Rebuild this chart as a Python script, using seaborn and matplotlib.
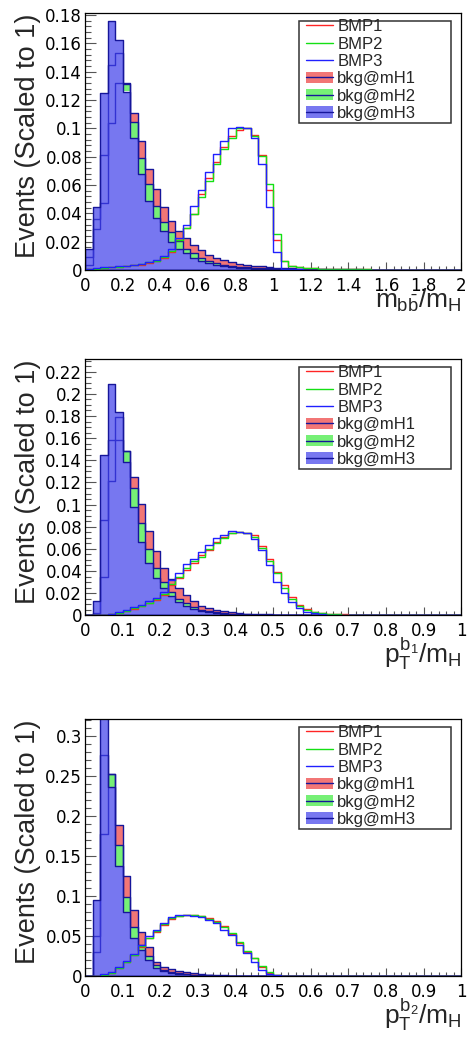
import numpy as np
import pandas as pd
import matplotlib
matplotlib.use("Agg")
import matplotlib.pyplot as plt
import seaborn as sns
from matplotlib.patches import Patch, Rectangle
from matplotlib.lines import Line2D
from matplotlib.ticker import MultipleLocator, FuncFormatter

# ---------------------------------------------------------------- data
# binning: 50 bins over the x range of each panel
mbb_range = (0.0, 2.0)
pt_range = (0.0, 1.0)
n_bins = 50

# ---- panel 1 : m_bb / m_H
mbb_bkg_mH1 = [0.0035, 0.029, 0.047, 0.1035, 0.132, 0.132, 0.111, 0.0913, 0.0715, 0.0569,
               0.0447, 0.0348, 0.0278, 0.0224, 0.0176, 0.0141, 0.0106, 0.0087, 0.0071, 0.0054,
               0.0045, 0.0037, 0.0030, 0.0025, 0.0021, 0.0017, 0.0014, 0.0012, 0.0010, 0.0009,
               0.0008, 0.0007, 0.0006, 0.0005, 0.0005, 0.0004, 0.0004, 0.0003, 0.0003, 0.0003,
               0.0002, 0.0002, 0.0002, 0.0002, 0.0001, 0.0001, 0.0001, 0.0001, 0.0001, 0.0001]
mbb_bkg_mH2 = [0.009, 0.036, 0.081, 0.1445, 0.153, 0.131, 0.1047, 0.0793, 0.0605, 0.0454,
               0.0339, 0.0266, 0.0205, 0.0150, 0.0118, 0.0087, 0.0066, 0.0047, 0.0035, 0.0028,
               0.0023, 0.0019, 0.0016, 0.0013, 0.0011, 0.0009, 0.0008, 0.0007, 0.0006, 0.0005,
               0.0004, 0.0004, 0.0003, 0.0003, 0.0002, 0.0002, 0.0002, 0.0001, 0.0001, 0.0001,
               0.0001, 0.0001, 0.0001, 0.0, 0.0, 0.0, 0.0, 0.0, 0.0, 0.0]
mbb_bkg_mH3 = [0.0146, 0.0447, 0.125, 0.1758, 0.1624, 0.126, 0.0934, 0.0678, 0.049, 0.0365,
               0.0273, 0.0200, 0.0148, 0.0118, 0.0082, 0.0066, 0.0047, 0.0035, 0.0028, 0.0019,
               0.0015, 0.0012, 0.0010, 0.0008, 0.0006, 0.0005, 0.0004, 0.0003, 0.0003, 0.0002,
               0.0002, 0.0001, 0.0001, 0.0001, 0.0001, 0.0, 0.0, 0.0, 0.0, 0.0,
               0.0, 0.0, 0.0, 0.0, 0.0, 0.0, 0.0, 0.0, 0.0, 0.0]
mbb_BMP1 = [0.0004, 0.0010, 0.0016, 0.0020, 0.0023, 0.0027, 0.0032, 0.0038, 0.0052, 0.0064,
            0.0088, 0.0130, 0.0210, 0.0294, 0.0395, 0.0536, 0.0647, 0.0760, 0.0870, 0.0946,
            0.0988, 0.1005, 0.0953, 0.0810, 0.0565, 0.0212, 0.0060, 0.0030, 0.0020, 0.0015,
            0.0012, 0.0010, 0.0008, 0.0007, 0.0006, 0.0005, 0.0004, 0.0004, 0.0003, 0.0003,
            0.0002, 0.0002, 0.0002, 0.0002, 0.0001, 0.0001, 0.0001, 0.0001, 0.0001, 0.0001]
mbb_BMP2 = [0.0004, 0.0010, 0.0016, 0.0021, 0.0024, 0.0028, 0.0033, 0.0040, 0.0055, 0.0066,
            0.0092, 0.0135, 0.0215, 0.0294, 0.0395, 0.0518, 0.0630, 0.0750, 0.0854, 0.0929,
            0.1000, 0.1005, 0.0948, 0.0807, 0.0607, 0.0252, 0.0066, 0.0030, 0.0020, 0.0015,
            0.0012, 0.0010, 0.0008, 0.0007, 0.0006, 0.0005, 0.0004, 0.0004, 0.0003, 0.0003,
            0.0002, 0.0002, 0.0002, 0.0001, 0.0001, 0.0001, 0.0001, 0.0001, 0.0001, 0.0]
mbb_BMP3 = [0.0005, 0.0012, 0.0019, 0.0024, 0.0026, 0.0030, 0.0035, 0.0042, 0.0059, 0.0071,
            0.0099, 0.0146, 0.0226, 0.0318, 0.0452, 0.0565, 0.0689, 0.0819, 0.0913, 0.1000,
            0.1012, 0.1002, 0.0930, 0.0748, 0.0442, 0.0125, 0.0010, 0.0006, 0.0004, 0.0003,
            0.0002, 0.0002, 0.0001, 0.0001, 0.0001, 0.0, 0.0, 0.0, 0.0, 0.0,
            0.0, 0.0, 0.0, 0.0, 0.0, 0.0, 0.0, 0.0, 0.0, 0.0]

# ---- panel 2 : pT(b1) / m_H
pt1_bkg_mH1 = [0.0, 0.001, 0.0343, 0.1216, 0.158, 0.148, 0.1246, 0.1002, 0.0761, 0.058,
               0.0424, 0.0325, 0.0244, 0.0184, 0.0125, 0.0087, 0.0063, 0.0048, 0.0036, 0.0027,
               0.0020, 0.0016, 0.0013, 0.0010, 0.0008, 0.0007, 0.0006, 0.0005, 0.0004, 0.0003,
               0.0003, 0.0002, 0.0002, 0.0002, 0.0001, 0.0001, 0.0001, 0.0001, 0.0, 0.0,
               0.0, 0.0, 0.0, 0.0, 0.0, 0.0, 0.0, 0.0, 0.0, 0.0]
pt1_bkg_mH2 = [0.0, 0.002, 0.086, 0.158, 0.1794, 0.1487, 0.1146, 0.0837, 0.0596, 0.0424,
               0.0304, 0.0214, 0.0150, 0.0108, 0.0078, 0.0052, 0.0036, 0.0026, 0.0019, 0.0014,
               0.0010, 0.0008, 0.0006, 0.0005, 0.0004, 0.0003, 0.0002, 0.0002, 0.0001, 0.0001,
               0.0, 0.0, 0.0, 0.0, 0.0, 0.0, 0.0, 0.0, 0.0, 0.0,
               0.0, 0.0, 0.0, 0.0, 0.0, 0.0, 0.0, 0.0, 0.0, 0.0]
pt1_bkg_mH3 = [0.0, 0.013, 0.1444, 0.2089, 0.1839, 0.1387, 0.098, 0.0665, 0.047, 0.0334,
               0.0244, 0.0175, 0.0120, 0.0088, 0.0060, 0.0040, 0.0028, 0.0019, 0.0014, 0.0010,
               0.0007, 0.0005, 0.0004, 0.0003, 0.0002, 0.0002, 0.0001, 0.0001, 0.0, 0.0,
               0.0, 0.0, 0.0, 0.0, 0.0, 0.0, 0.0, 0.0, 0.0, 0.0,
               0.0, 0.0, 0.0, 0.0, 0.0, 0.0, 0.0, 0.0, 0.0, 0.0]
pt1_BMP1 = [0.0, 0.0, 0.0005, 0.0010, 0.0022, 0.0040, 0.0060, 0.0080, 0.0110, 0.0140,
            0.0180, 0.0274, 0.0334, 0.0409, 0.0475, 0.0544, 0.0589, 0.0665, 0.0704, 0.0740,
            0.0755, 0.0746, 0.0725, 0.0626, 0.0505, 0.0394, 0.0273, 0.0168, 0.0093, 0.0054,
            0.0033, 0.0020, 0.0015, 0.0010, 0.0008, 0.0005, 0.0003, 0.0002, 0.0001, 0.0,
            0.0, 0.0, 0.0, 0.0, 0.0, 0.0, 0.0, 0.0, 0.0, 0.0]
pt1_BMP2 = [0.0, 0.0, 0.0005, 0.0011, 0.0024, 0.0042, 0.0064, 0.0085, 0.0115, 0.0148,
            0.0190, 0.0285, 0.0349, 0.0424, 0.0490, 0.0530, 0.0595, 0.0650, 0.0695, 0.0740,
            0.0752, 0.0740, 0.0710, 0.0605, 0.0490, 0.0379, 0.0250, 0.0150, 0.0085, 0.0048,
            0.0030, 0.0018, 0.0012, 0.0008, 0.0005, 0.0003, 0.0002, 0.0001, 0.0, 0.0,
            0.0, 0.0, 0.0, 0.0, 0.0, 0.0, 0.0, 0.0, 0.0, 0.0]
pt1_BMP3 = [0.0, 0.0, 0.0006, 0.0012, 0.0027, 0.0048, 0.0072, 0.0093, 0.0129, 0.0160,
            0.0210, 0.0315, 0.0379, 0.0460, 0.0505, 0.0569, 0.0635, 0.0695, 0.0725, 0.0764,
            0.0755, 0.0746, 0.0686, 0.0589, 0.0454, 0.0298, 0.0198, 0.0117, 0.0063, 0.0033,
            0.0018, 0.0010, 0.0006, 0.0004, 0.0002, 0.0001, 0.0, 0.0, 0.0, 0.0,
            0.0, 0.0, 0.0, 0.0, 0.0, 0.0, 0.0, 0.0, 0.0, 0.0]

# ---- panel 3 : pT(b2) / m_H
pt2_bkg_mH1 = [0.0, 0.0295, 0.177, 0.2518, 0.1885, 0.1253, 0.0824, 0.0545, 0.0358, 0.0179,
               0.0117, 0.0087, 0.0062, 0.0050, 0.0033, 0.0025, 0.0018, 0.0012, 0.0008, 0.0006,
               0.0004, 0.0003, 0.0002, 0.0002, 0.0001, 0.0001, 0.0, 0.0, 0.0, 0.0,
               0.0, 0.0, 0.0, 0.0, 0.0, 0.0, 0.0, 0.0, 0.0, 0.0,
               0.0, 0.0, 0.0, 0.0, 0.0, 0.0, 0.0, 0.0, 0.0, 0.0]
pt2_bkg_mH2 = [0.0, 0.050, 0.276, 0.2518, 0.1635, 0.099, 0.0616, 0.0387, 0.0254, 0.0137,
               0.0075, 0.0054, 0.0035, 0.0025, 0.0017, 0.0012, 0.0008, 0.0005, 0.0003, 0.0002,
               0.0001, 0.0001, 0.0, 0.0, 0.0, 0.0, 0.0, 0.0, 0.0, 0.0,
               0.0, 0.0, 0.0, 0.0, 0.0, 0.0, 0.0, 0.0, 0.0, 0.0,
               0.0, 0.0, 0.0, 0.0, 0.0, 0.0, 0.0, 0.0, 0.0, 0.0]
pt2_bkg_mH3 = [0.0, 0.0949, 0.330, 0.2364, 0.1377, 0.0795, 0.047, 0.0325, 0.020, 0.0102,
               0.0062, 0.0042, 0.0030, 0.0020, 0.0014, 0.0010, 0.0007, 0.0005, 0.0003, 0.0002,
               0.0001, 0.0001, 0.0, 0.0, 0.0, 0.0, 0.0, 0.0, 0.0, 0.0,
               0.0, 0.0, 0.0, 0.0, 0.0, 0.0, 0.0, 0.0, 0.0, 0.0,
               0.0, 0.0, 0.0, 0.0, 0.0, 0.0, 0.0, 0.0, 0.0, 0.0]
pt2_BMP1 = [0.0, 0.0, 0.0015, 0.0040, 0.0100, 0.0170, 0.0260, 0.0360, 0.0470, 0.0550,
            0.0640, 0.0710, 0.0750, 0.0760, 0.0760, 0.0755, 0.0720, 0.0690, 0.0620, 0.0530,
            0.0410, 0.0300, 0.0220, 0.0117, 0.0042, 0.0017, 0.0006, 0.0002, 0.0, 0.0,
            0.0, 0.0, 0.0, 0.0, 0.0, 0.0, 0.0, 0.0, 0.0, 0.0,
            0.0, 0.0, 0.0, 0.0, 0.0, 0.0, 0.0, 0.0, 0.0, 0.0]
pt2_BMP2 = [0.0, 0.0, 0.0016, 0.0042, 0.0105, 0.0175, 0.0265, 0.0370, 0.0480, 0.0560,
            0.0650, 0.0720, 0.0755, 0.0762, 0.0758, 0.0750, 0.0715, 0.0680, 0.0610, 0.0540,
            0.0430, 0.0310, 0.0225, 0.0120, 0.0054, 0.0018, 0.0006, 0.0002, 0.0, 0.0,
            0.0, 0.0, 0.0, 0.0, 0.0, 0.0, 0.0, 0.0, 0.0, 0.0,
            0.0, 0.0, 0.0, 0.0, 0.0, 0.0, 0.0, 0.0, 0.0, 0.0]
pt2_BMP3 = [0.0, 0.0, 0.0020, 0.0046, 0.0117, 0.0187, 0.0280, 0.0387, 0.0500, 0.0574,
            0.0666, 0.0732, 0.0762, 0.0766, 0.0755, 0.0732, 0.0700, 0.0657, 0.0574, 0.0512,
            0.0387, 0.0283, 0.0179, 0.0075, 0.0025, 0.0010, 0.0004, 0.0002, 0.0, 0.0,
            0.0, 0.0, 0.0, 0.0, 0.0, 0.0, 0.0, 0.0, 0.0, 0.0,
            0.0, 0.0, 0.0, 0.0, 0.0, 0.0, 0.0, 0.0, 0.0, 0.0]

legend_labels = ["BMP1", "BMP2", "BMP3", "bkg@mH1", "bkg@mH2", "bkg@mH3"]
y_title = "Events (Scaled to 1)"
x_titles = [r"$m_{b\bar{b}}/m_{H}$", r"$p_{T}^{b_{1}}/m_{H}$", r"$p_{T}^{b_{2}}/m_{H}$"]

# ---------------------------------------------------------------- style
sns.set_style("ticks")
plt.rcParams["font.family"] = ["Liberation Sans", "DejaVu Sans"]
plt.rcParams["mathtext.fontset"] = "custom"
plt.rcParams["mathtext.rm"] = "Liberation Sans"
plt.rcParams["mathtext.it"] = "Liberation Sans"
plt.rcParams["mathtext.bf"] = "Liberation Sans:bold"
plt.rcParams["axes.unicode_minus"] = False

RED_FILL = "#f27676"
GREEN_FILL = "#76f076"
BLUE_FACE = (62 / 255, 62 / 255, 234 / 255, 0.70)
BLUE_LEG = "#7878f0"
OUTLINE = "#16169a"
SIG_COLORS = ["#ff2424", "#14e014", "#2020ff"]

panels = [
    dict(rng=mbb_range, bkg=[mbb_bkg_mH1, mbb_bkg_mH2, mbb_bkg_mH3],
         sig=[mbb_BMP1, mbb_BMP2, mbb_BMP3], ylim=(0, 0.1812),
         xmaj=0.2, xmin=0.04, ymaj=0.02, ymin=0.004,
         rect=[85 / 471, 1 - 270 / 1038, 376.3 / 471, 256.7 / 1038], xlab_y=-0.148),
    dict(rng=pt_range, bkg=[pt1_bkg_mH1, pt1_bkg_mH2, pt1_bkg_mH3],
         sig=[pt1_BMP1, pt1_BMP2, pt1_BMP3], ylim=(0, 0.2312),
         xmaj=0.1, xmin=0.02, ymaj=0.02, ymin=0.005,
         rect=[85 / 471, 1 - 615.3 / 1038, 376.3 / 471, 256.0 / 1038], xlab_y=-0.186),
    dict(rng=pt_range, bkg=[pt2_bkg_mH1, pt2_bkg_mH2, pt2_bkg_mH3],
         sig=[pt2_BMP1, pt2_BMP2, pt2_BMP3], ylim=(0, 0.3205),
         xmaj=0.1, xmin=0.02, ymaj=0.05, ymin=0.01,
         rect=[85 / 471, 1 - 976 / 1038, 376.3 / 471, 256.7 / 1038], xlab_y=-0.186),
]

fig = plt.figure(figsize=(4.71, 10.38), dpi=100)
fig.patch.set_facecolor("white")

for p, xt in zip(panels, x_titles):
    ax = fig.add_axes(p["rect"])
    ax.set_facecolor("white")
    lo, hi = p["rng"]
    width = (hi - lo) / n_bins
    centers = lo + width * (np.arange(n_bins) + 0.5)
    b1, b2, b3 = p["bkg"]
    df = pd.DataFrame({"x": centers, "b1": b1, "b2": b2, "b3": b3,
                       "s1": p["sig"][0], "s2": p["sig"][1], "s3": p["sig"][2]})
    common = dict(data=df, x="x", bins=n_bins, binrange=(lo, hi), element="step", ax=ax)

    sns.histplot(weights="b1", fill=True, color=RED_FILL, facecolor=RED_FILL,
                 edgecolor="none", linewidth=0, zorder=1.0, **common)
    sns.histplot(weights="b2", fill=True, color=GREEN_FILL, facecolor=GREEN_FILL,
                 edgecolor="none", linewidth=0, zorder=1.1, **common)
    sns.histplot(weights="b3", fill=True, color="white", facecolor="white",
                 edgecolor="none", linewidth=0, zorder=1.2, **common)
    sns.histplot(weights="b1", fill=True, color=OUTLINE, facecolor="none",
                 edgecolor=OUTLINE, linewidth=1.0, zorder=1.3, **common)
    sns.histplot(weights="b2", fill=True, color=OUTLINE, facecolor="none",
                 edgecolor=OUTLINE, linewidth=1.0, zorder=1.4, **common)
    sns.histplot(weights="b3", fill=True, color=OUTLINE, facecolor=BLUE_FACE,
                 edgecolor=OUTLINE, linewidth=1.0, zorder=1.5, **common)
    for col, c in zip(["s1", "s2", "s3"], SIG_COLORS):
        sns.histplot(weights=col, fill=False, color=c,
                     linewidth=1.0, zorder=2.0, **common)

    ax.set_xlim(lo, hi)
    ax.set_ylim(*p["ylim"])

    fmt = FuncFormatter(lambda v, pos: f"{v:g}")
    ax.xaxis.set_major_locator(MultipleLocator(p["xmaj"]))
    ax.xaxis.set_minor_locator(MultipleLocator(p["xmin"]))
    ax.yaxis.set_major_locator(MultipleLocator(p["ymaj"]))
    ax.yaxis.set_minor_locator(MultipleLocator(p["ymin"]))
    ax.xaxis.set_major_formatter(fmt)
    ax.yaxis.set_major_formatter(fmt)

    ax.tick_params(axis="x", which="both", direction="in", top=False, bottom=True,
                   color="#555555", width=0.8, labelsize=12, pad=5,
                   labelfontfamily="DejaVu Sans", labelcolor="black")
    ax.tick_params(axis="x", which="major", length=5.5)
    ax.tick_params(axis="x", which="minor", length=2.8)
    ax.tick_params(axis="y", which="both", direction="in", right=False, left=True,
                   color="#555555", width=0.8, labelsize=12, pad=2,
                   labelfontfamily="DejaVu Sans", labelcolor="black")
    ax.tick_params(axis="y", which="major", length=8.1)
    ax.tick_params(axis="y", which="minor", length=4.0)

    for sp in ax.spines.values():
        sp.set_color("black")
        sp.set_linewidth(0.9)
        sp.set_zorder(3)

    ax.set_ylabel(y_title, loc="top", fontsize=19.5, fontfamily="Liberation Sans")
    ax.yaxis.set_label_coords(-0.118, 1.0)
    ax.set_xlabel(xt, loc="right", fontsize=19, va="baseline")
    ax.xaxis.set_label_coords(1.0, p["xlab_y"])

    # legend box (ROOT style) and entries
    ax.add_patch(Rectangle((0.5687, 0.5715), 0.9726 - 0.5687, 0.970 - 0.5715,
                           transform=ax.transAxes, facecolor="white",
                           edgecolor="#333333", linewidth=1.1, zorder=4, clip_on=False))
    handles = [Line2D([], [], color=c, lw=1.0) for c in SIG_COLORS]
    for fc in [RED_FILL, GREEN_FILL, BLUE_LEG]:
        handles.append((Patch(facecolor=fc, edgecolor="none"),
                        Line2D([], [], color=OUTLINE, lw=1.0)))
    leg = ax.legend(handles, legend_labels, loc="upper left",
                    bbox_to_anchor=(0.5873, 0.977), bbox_transform=ax.transAxes,
                    frameon=False, borderpad=0, borderaxespad=0,
                    handlelength=1.6, handleheight=0.66, handletextpad=0.28,
                    labelspacing=0.14, fontsize=12)
    leg.set_zorder(5)

fig.savefig("out.png", dpi=100, facecolor="white")
